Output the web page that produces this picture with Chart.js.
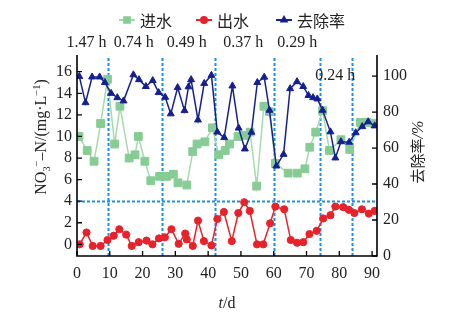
<!DOCTYPE html>
<html>
<head>
<meta charset="utf-8">
<script src="https://cdn.jsdelivr.net/npm/chart.js@4.4.1/dist/chart.umd.min.js"></script>
<style>
  html, body { margin: 0; padding: 0; background: #fff; }
  #wrap { width: 462px; height: 324px; }
</style>
</head>
<body>
<div id="wrap"><canvas id="chart"></canvas></div>
<script>
// 进水 (influent NO3-N)
const inDays = [0.6, 3.1, 5.2, 7.2, 9.3, 11.5, 13.1, 15.9, 17.7, 18.7, 20.7, 22.5, 25.2, 27.4, 29.4, 30.8, 33.5, 35.3, 36.6, 39.0, 41.3, 43.2, 45.2, 46.5, 49.1, 51.1, 52.8, 54.8, 57.0, 58.7, 60.5, 64.4, 67.2, 69.5, 71.0, 72.8, 74.9, 77.0, 80.5, 83.2, 86.4, 88.5, 90.7];
const inNO3 = [10.0, 8.7, 7.7, 11.2, 15.3, 9.3, 12.8, 8.0, 8.3, 10.0, 7.7, 5.9, 6.3, 6.3, 6.5, 5.7, 5.5, 8.6, 9.3, 9.5, 10.8, 8.3, 8.7, 9.3, 10.0, 10.1, 10.4, 5.4, 12.8, 12.3, 7.5, 6.6, 6.6, 7.0, 9.0, 10.4, 12.4, 8.7, 9.7, 8.8, 11.3, 11.3, 11.2];

// 出水 (effluent NO3-N)
const outDays = [0.8, 2.9, 4.8, 7.2, 9.3, 11.2, 12.9, 15.0, 16.7, 18.8, 21.2, 23.0, 25.0, 26.8, 28.8, 31.0, 33.0, 33.5, 35.3, 36.9, 38.7, 41.0, 42.8, 44.8, 47.2, 49.2, 51.0, 52.7, 54.9, 56.8, 58.9, 60.5, 63.2, 65.2, 67.1, 69.0, 70.9, 73.1, 75.1, 77.3, 78.8, 81.2, 82.9, 84.6, 86.9, 89.0, 90.8];
const outNO3 = [0.0, 1.1, -0.15, -0.15, 0.4, 0.8, 1.4, 0.9, -0.15, 0.2, 0.35, 0.0, 0.55, 0.65, 1.4, 0.05, 1.0, 0.45, -0.15, 2.2, 0.3, -0.1, 2.35, 3.0, 0.3, 2.9, 3.9, 3.1, 0.0, 0.0, 1.95, 3.5, 3.25, 0.4, 0.15, 0.2, 0.95, 1.25, 2.4, 2.7, 3.5, 3.45, 3.2, 2.9, 3.25, 2.85, 3.1];

// 去除率 (removal rate, %)
const remDays = [0.7, 2.6, 4.6, 6.9, 8.5, 10.4, 12.3, 14.2, 17.2, 18.9, 21.0, 23.1, 24.9, 26.9, 28.6, 30.7, 32.8, 34.0, 34.8, 36.9, 38.8, 41.0, 42.8, 44.9, 47.4, 49.3, 51.2, 53.2, 55.0, 57.1, 58.7, 60.8, 63.0, 65.0, 67.1, 69.0, 70.6, 72.0, 73.3, 74.9, 77.3, 78.8, 80.5, 83.0, 85.0, 87.0, 88.8, 90.8];
const removal = [99.8, 85.2, 99.5, 99.5, 96.4, 90.4, 88.0, 86.2, 100.7, 98.0, 94.2, 97.5, 90.8, 88.2, 79.0, 93.6, 80.8, 94.0, 98.0, 75.6, 95.9, 100.4, 68.9, 65.8, 94.5, 71.1, 59.5, 68.8, 96.4, 99.4, 81.0, 50.0, 56.5, 93.0, 96.9, 94.2, 89.2, 88.0, 87.3, 81.0, 69.0, 54.5, 63.5, 63.2, 68.5, 71.9, 74.6, 72.3];

// axes ticks
const xTicks = [0, 10, 20, 30, 40, 50, 60, 70, 80, 90];
const leftTicks = [0, 2, 4, 6, 8, 10, 12, 14, 16];
const rightTicks = [0, 20, 40, 60, 80, 100];

// phase boundaries (days), HRT labels, limit line
const phaseBounds = [9.5, 26, 42, 60, 74, 84];
const hrtLabels = ['1.47 h', '0.74 h', '0.49 h', '0.37 h', '0.29 h', '0.24 h'];
const hrtX = [2.9, 17.3, 33.5, 50.7, 67.2, 78.8];
const limitLine = 4;

const GREEN_LINE = '#a3dbad';
const GREEN = '#86cc94';
const RED = '#e8222b';
const NAVY = '#14208f';
const DASH = '#1a8fe6';
const SERIF = '"Liberation Serif", "Times New Roman", serif';
const CJK = '"Noto Sans CJK SC", sans-serif';

function pts(xs, ys) {
    return xs.map((x, i) => ({ x: x, y: ys[i] }));
}

function richText(ctx, parts, x, y, size) {
    // draws text pieces along baseline, with sub/superscripts
    let cx = x;
    parts.forEach(p => {
        const s = p.sub || p.sup ? size * 0.65 : size;
        ctx.font = s + 'px ' + SERIF;
        let dy = 0;
        if (p.sub) dy = size * 0.22;
        if (p.sup) dy = -size * 0.38;
        ctx.fillText(p.t, cx, y + dy);
        cx += ctx.measureText(p.t).width;
    });
    return cx - x;
}

function measureRich(ctx, parts, size) {
    let w = 0;
    parts.forEach(p => {
        const s = p.sub || p.sup ? size * 0.65 : size;
        ctx.font = s + 'px ' + SERIF;
        w += ctx.measureText(p.t).width;
    });
    return w;
}

const decorPlugin = {
    id: 'decor',
    beforeDatasetsDraw(chart) {
        const { ctx, chartArea, scales } = chart;
        const xs = scales.x, yl = scales.y;
        ctx.save();
        ctx.strokeStyle = DASH;
        ctx.lineWidth = 2;
        ctx.setLineDash([3, 2]);
        phaseBounds.forEach(d => {
            const px = Math.round(xs.getPixelForValue(d)) + 0.5;
            ctx.beginPath();
            ctx.moveTo(px, chartArea.bottom);
            ctx.lineTo(px, chartArea.top + 2);
            ctx.stroke();
        });
        const py = Math.round(yl.getPixelForValue(limitLine)) + 0.5;
        ctx.beginPath();
        ctx.moveTo(chartArea.left, py);
        ctx.lineTo(chartArea.right, py);
        ctx.stroke();
        ctx.restore();
    },
    afterDraw(chart) {
        const { ctx, chartArea, scales } = chart;
        const xs = scales.x, yl = scales.y, yr = scales.y1;
        const L = chartArea.left, R = chartArea.right, T = chartArea.top, B = chartArea.bottom;
        ctx.save();

        // axis frame (left, right, bottom)
        ctx.strokeStyle = '#000';
        ctx.lineWidth = 1.6;
        ctx.setLineDash([]);
        ctx.beginPath();
        ctx.moveTo(L, T);
        ctx.lineTo(L, B);
        ctx.lineTo(R, B);
        ctx.lineTo(R, T);
        ctx.stroke();

        // inward ticks
        ctx.lineWidth = 1.3;
        ctx.beginPath();
        xTicks.forEach(v => {
            const px = xs.getPixelForValue(v);
            ctx.moveTo(px, B);
            ctx.lineTo(px, B - 5);
        });
        leftTicks.forEach(v => {
            const py = yl.getPixelForValue(v);
            ctx.moveTo(L, py);
            ctx.lineTo(L + 5, py);
        });
        rightTicks.forEach(v => {
            const py = yr.getPixelForValue(v);
            ctx.moveTo(R, py);
            ctx.lineTo(R - 5, py);
        });
        ctx.stroke();

        // HRT labels
        ctx.fillStyle = '#222';
        ctx.font = '16px ' + SERIF;
        ctx.textAlign = 'center';
        ctx.textBaseline = 'middle';
        hrtLabels.forEach((t, i) => {
            const px = xs.getPixelForValue(hrtX[i]);
            const py = i < 5 ? 43 : 76;
            ctx.fillText(t, px, py);
        });

        // x axis title: t/d
        ctx.textBaseline = 'alphabetic';
        ctx.textAlign = 'left';
        ctx.font = 'italic 16px ' + SERIF;
        const tw = ctx.measureText('t').width;
        ctx.font = '16px ' + SERIF;
        const dw = ctx.measureText('/d').width;
        const cx = (L + R) / 2 - (tw + dw) / 2;
        ctx.font = 'italic 16px ' + SERIF;
        ctx.fillText('t', cx, 308);
        ctx.font = '16px ' + SERIF;
        ctx.fillText('/d', cx + tw, 308);

        // left axis title
        const parts = [
            { t: 'NO' }, { t: '3', sub: true }, { t: '\u2212', sup: true },
            { t: '\u2013N/(mg\u00b7L' }, { t: '\u22121', sup: true }, { t: ')' }
        ];
        const lw = measureRich(ctx, parts, 16);
        ctx.save();
        ctx.translate(46, 137);
        ctx.rotate(-Math.PI / 2);
        richText(ctx, parts, -lw / 2, 0, 16);
        ctx.restore();

        // right axis title
        ctx.save();
        ctx.translate(423, 152);
        ctx.rotate(-Math.PI / 2);
        ctx.font = '15px ' + CJK;
        const cw = ctx.measureText('去除率').width;
        ctx.font = 'italic 16px ' + SERIF;
        const pw = ctx.measureText('/%').width;
        const sx = -(cw + pw) / 2;
        ctx.font = '15px ' + CJK;
        ctx.fillText('去除率', sx, 0);
        ctx.font = 'italic 16px ' + SERIF;
        ctx.fillText('/%', sx + cw, 0);
        ctx.restore();

        // legend
        const items = [
            { label: '进水', color: GREEN_LINE, mark: GREEN, style: 'rect', x: 119 },
            { label: '出水', color: RED, mark: RED, style: 'circle', x: 196 },
            { label: '去除率', color: NAVY, mark: NAVY, style: 'triangle', x: 276 }
        ];
        const ly = 20;
        items.forEach(it => {
            ctx.strokeStyle = it.color;
            ctx.lineWidth = 2;
            ctx.beginPath();
            ctx.moveTo(it.x, ly);
            ctx.lineTo(it.x + 16, ly);
            ctx.stroke();
            ctx.fillStyle = it.mark;
            ctx.strokeStyle = it.mark;
            Chart.helpers.drawPoint(ctx, { pointStyle: it.style, radius: it.style === 'rect' ? 4 : 3, borderWidth: 1 }, it.x + 8, ly);
            ctx.fillStyle = '#222';
            ctx.font = '16px ' + CJK;
            ctx.textAlign = 'left';
            ctx.textBaseline = 'middle';
            ctx.fillText(it.label, it.x + 21, ly + 1);
        });

        ctx.restore();
    }
};

new Chart(document.getElementById('chart'), {
    type: 'line',
    data: {
        datasets: [
            {
                label: '去除率',
                data: pts(remDays, removal),
                yAxisID: 'y1',
                borderColor: NAVY,
                backgroundColor: NAVY,
                borderWidth: 1.5,
                pointStyle: 'triangle',
                pointRadius: 4,
                pointBorderWidth: 1,
                pointBackgroundColor: NAVY,
                pointBorderColor: NAVY,
                tension: 0,
                order: 0
            },
            {
                label: '出水',
                data: pts(outDays, outNO3),
                yAxisID: 'y',
                borderColor: RED,
                backgroundColor: RED,
                borderWidth: 1.5,
                pointStyle: 'circle',
                pointRadius: 3.6,
                pointBorderWidth: 1,
                pointBackgroundColor: RED,
                pointBorderColor: RED,
                tension: 0,
                order: 1
            },
            {
                label: '进水',
                data: pts(inDays, inNO3),
                yAxisID: 'y',
                borderColor: GREEN_LINE,
                backgroundColor: GREEN,
                borderWidth: 1.5,
                pointStyle: 'rect',
                pointRadius: 5.5,
                pointBorderWidth: 1,
                pointBackgroundColor: GREEN,
                pointBorderColor: GREEN,
                tension: 0,
                order: 2
            }
        ]
    },
    options: {
        responsive: true,
        maintainAspectRatio: false,
        animation: false,
        layout: { padding: { top: 55, left: 0, right: 0, bottom: 0 } },
        plugins: {
            legend: { display: false },
            tooltip: { enabled: false }
        },
        scales: {
            x: {
                type: 'linear',
                min: 0,
                max: 91.5,
                grid: { display: false, drawTicks: false },
                border: { display: false },
                afterBuildTicks: s => { s.ticks = xTicks.map(v => ({ value: v })); },
                afterFit: s => { s.height = 68; },
                ticks: {
                    padding: 8,
                    color: '#222',
                    maxRotation: 0,
                    autoSkip: false,
                    font: { family: SERIF, size: 16 }
                }
            },
            y: {
                position: 'left',
                min: -1.08,
                max: 17.55,
                grid: { display: false, drawTicks: false },
                border: { display: false },
                afterBuildTicks: s => { s.ticks = leftTicks.map(v => ({ value: v })); },
                afterFit: s => { s.width = 77; },
                ticks: {
                    padding: 5,
                    color: '#222',
                    autoSkip: false,
                    font: { family: SERIF, size: 16 }
                }
            },
            y1: {
                position: 'right',
                min: 0,
                max: 111.7,
                grid: { display: false, drawTicks: false },
                border: { display: false },
                afterBuildTicks: s => { s.ticks = rightTicks.map(v => ({ value: v })); },
                afterFit: s => { s.width = 85; },
                ticks: {
                    padding: 6,
                    color: '#222',
                    autoSkip: false,
                    font: { family: SERIF, size: 16 }
                }
            }
        }
    },
    plugins: [decorPlugin]
});
</script>
</body>
</html>
